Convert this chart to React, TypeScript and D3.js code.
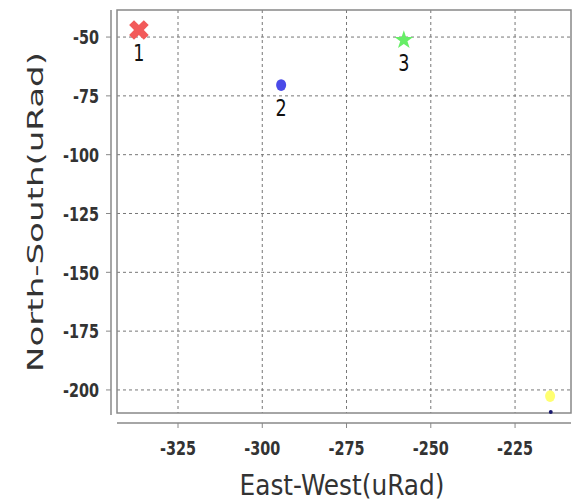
import React from "react";
import * as d3 from "d3";

const pointLabels = ["1", "2", "3", "", ""];
const eastWest = [-336.6, -294.4, -258.0, -214.6, -214.4];
const northSouth = [-47.0, -70.4, -51.3, -202.6, -209.4];
const markerKinds = ["cross", "circle", "star", "circle", "dot"];
const markerColors = ["#f25a5a", "#4a4ae8", "#66ee66", "#ffff70", "#1a1a6e"];
const xTicks = [-325, -300, -275, -250, -225];
const yTicks = [-50, -75, -100, -125, -150, -175, -200];

const W = 581, H = 501;
const L = 117, R = 571, T = 10, B = 413;

export default function App() {
  const x = d3.scaleLinear().domain([-343.1, -208.4]).range([L, R]);
  const y = d3.scaleLinear().domain([-38.5, -209.8]).range([T, B]);
  const font = "'DejaVu Sans Condensed', 'DejaVu Sans', sans-serif";
  const sym = (k: string) => {
    if (k === "cross") return d3.symbol(d3.symbolCross, 240)();
    if (k === "star") return d3.symbol(d3.symbolStar, 110)();
    if (k === "dot") return d3.symbol(d3.symbolCircle, 12)();
    return d3.symbol(d3.symbolCircle, 110)();
  };
  const markerTransform = (k: string) =>
    k === "cross" ? " rotate(45)" : k === "circle" ? " scale(0.85,1)" : "";
  return (
    <svg width={W} height={H} style={{ position: "absolute", left: 0, top: 0, background: "#fff" }}>
      {xTicks.map((t) => (
        <line key={"gx" + t} x1={x(t)} x2={x(t)} y1={T} y2={B} stroke="#777" strokeWidth={1} strokeDasharray="3,3" />
      ))}
      {yTicks.map((t) => (
        <line key={"gy" + t} x1={L} x2={R} y1={y(t)} y2={y(t)} stroke="#777" strokeWidth={1} strokeDasharray="3,3" />
      ))}
      <rect x={L} y={T} width={R - L} height={B - T} fill="none" stroke="#888" strokeWidth={1.5} />
      <line x1={111} x2={111} y1={T} y2={B + 2} stroke="#888" strokeWidth={1.5} />
      {yTicks.map((t) => (
        <g key={"yt" + t}>
          <line x1={106} x2={111} y1={y(t)} y2={y(t)} stroke="#888" strokeWidth={1} />
          <text transform={`translate(99,${y(t)}) scale(0.8,1)`} dy="0.36em" textAnchor="end" fontFamily={font} fontWeight="bold" fontSize={20} fill="#333">{t}</text>
        </g>
      ))}
      <line x1={L} x2={R} y1={423} y2={423} stroke="#888" strokeWidth={1.5} />
      {xTicks.map((t) => (
        <g key={"xt" + t}>
          <line x1={x(t)} x2={x(t)} y1={423} y2={428} stroke="#888" strokeWidth={1} />
          <text transform={`translate(${x(t)},455) scale(0.8,1)`} textAnchor="middle" fontFamily={font} fontWeight="bold" fontSize={20} fill="#333">{t}</text>
        </g>
      ))}
      <text x={342} y={495} textAnchor="middle" fontFamily={font} fontSize={29} fill="#333" textLength={205} lengthAdjust="spacingAndGlyphs">East-West(uRad)</text>
      <text transform={`translate(43,212) rotate(-90)`} textAnchor="middle" fontFamily="'DejaVu Sans', sans-serif" fontSize={21} fill="#333" textLength={320} lengthAdjust="spacingAndGlyphs">North-South(uRad)</text>
      {eastWest.map((v, i) => (
        <g key={"p" + i}>
          <path d={sym(markerKinds[i]) || ""} transform={`translate(${x(v)},${y(northSouth[i])})${markerTransform(markerKinds[i])}`} fill={markerColors[i]} />
          {pointLabels[i] && (
            <text transform={`translate(${x(v)},${y(northSouth[i]) + 31}) scale(0.85,1)`} textAnchor="middle" fontFamily={font} fontSize={23} fill="#111">{pointLabels[i]}</text>
          )}
        </g>
      ))}
    </svg>
  );
}
